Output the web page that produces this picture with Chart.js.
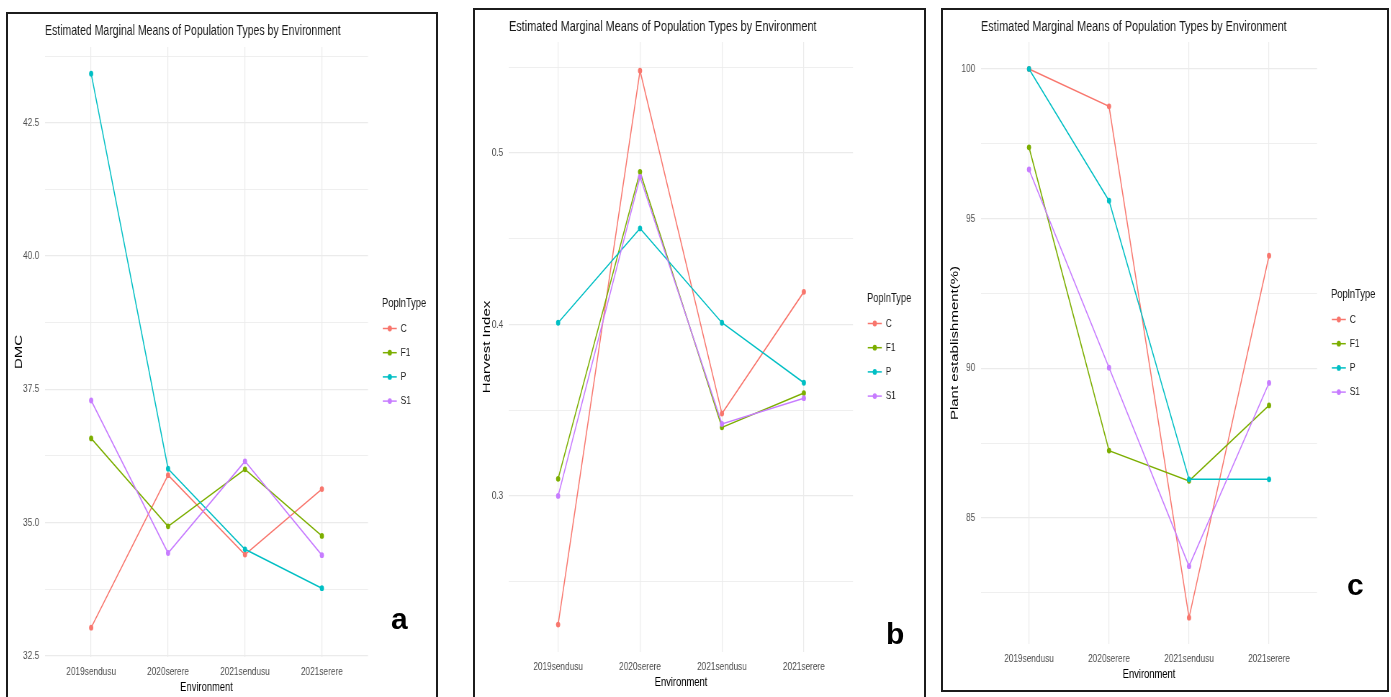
<!DOCTYPE html>
<html>
<head>
<meta charset="utf-8">
<script src="https://cdn.jsdelivr.net/npm/chart.js@4.4.0/dist/chart.umd.min.js"></script>
<style>
  body { margin: 0; background: #fff; width: 1391px; height: 697px; overflow: hidden; position: relative; }
  .frame { position: absolute; border: 2px solid #1c1c1c; box-sizing: border-box; }
  .wrap { position: absolute; transform-origin: 0 0; transform: scaleX(0.72); }
  .tag { position: absolute; font: bold 30px "Liberation Sans", Arial, sans-serif; color: #000; line-height: 30px; }
</style>
</head>
<body>
<div class="frame" style="left:6px;top:12px;width:432px;height:700px"></div>
<div class="frame" style="left:473px;top:8px;width:453px;height:700px"></div>
<div class="frame" style="left:941px;top:8px;width:448px;height:684px"></div>

<div class="wrap" style="left:9px;top:15px;width:592px;height:682px"><canvas id="chartA"></canvas></div>
<div class="wrap" style="left:477px;top:12px;width:619px;height:680px"><canvas id="chartB"></canvas></div>
<div class="wrap" style="left:945px;top:12px;width:614px;height:672px"><canvas id="chartC"></canvas></div>

<div class="tag" style="left:391px;top:604px">a</div>
<div class="tag" style="left:886px;top:619px">b</div>
<div class="tag" style="left:1347px;top:570px">c</div>

<script>
const environments = ['2019sendusu', '2020serere', '2021sendusu', '2021serere'];
const poplnTypes = ['C', 'F1', 'P', 'S1'];
const typeColors = ['#F8766D', '#7CAE00', '#00BFC4', '#C77CFF'];

// a - DMC
const dmcC  = [33.03, 35.89, 34.40, 35.63];
const dmcF1 = [36.58, 34.93, 36.00, 34.75];
const dmcP  = [43.42, 36.01, 34.50, 33.77];
const dmcS1 = [37.29, 34.43, 36.15, 34.39];
const dmcTicks = [32.5, 35, 37.5, 40, 42.5];

// b - Harvest Index
const hiC  = [0.225, 0.548, 0.348, 0.419];
const hiF1 = [0.310, 0.489, 0.340, 0.360];
const hiP  = [0.401, 0.456, 0.401, 0.366];
const hiS1 = [0.300, 0.486, 0.342, 0.357];
const hiTicks = [0.3, 0.4, 0.5];

// c - Plant establishment
const peC  = [100.0, 98.75, 81.67, 93.76];
const peF1 = [97.38, 87.25, 86.24, 88.76];
const peP  = [100.0, 95.60, 86.29, 86.29];
const peS1 = [96.64, 90.02, 83.39, 89.51];
const peTicks = [85, 90, 95, 100];

const FONT = '"Liberation Sans", Arial, sans-serif';
const TITLE = 'Estimated Marginal Means of Population Types by Environment';

// title + legend, drawn like the ggplot guide
const ggExtras = {
  id: 'ggExtras',
  afterDraw(chart, args, o) {
    const { ctx, chartArea: a } = chart;
    ctx.save();
    ctx.textBaseline = 'middle';
    ctx.textAlign = 'left';
    ctx.fillStyle = '#1a1a1a';
    ctx.font = o.titleSize + 'px ' + FONT;
    ctx.fillText(TITLE, a.left, o.titleY);

    const mid = (a.top + a.bottom) / 2;
    const lx = a.right + 19.5;
    ctx.font = '13px ' + FONT;
    ctx.fillText('PoplnType', lx, mid - 49);
    chart.data.datasets.forEach((ds, i) => {
      const y = mid - 23.5 + 24.2 * i;
      ctx.strokeStyle = ds.borderColor;
      ctx.fillStyle = ds.borderColor;
      ctx.lineWidth = 1.5;
      ctx.beginPath();
      ctx.moveTo(lx + 1, y);
      ctx.lineTo(lx + 20.5, y);
      ctx.stroke();
      ctx.beginPath();
      ctx.arc(lx + 10.75, y, 2.9, 0, Math.PI * 2);
      ctx.fill();
      ctx.fillStyle = '#1a1a1a';
      ctx.font = '11.5px ' + FONT;
      ctx.fillText(ds.label, lx + 26, y);
    });
    ctx.restore();
  }
};

function makePanel(id, series, majors, yMin, yMax, decimals, yTitle, lay) {
  const half = (majors[1] - majors[0]) / 2;
  const yVals = [], yLabels = [];
  for (let k = -1; k <= (majors.length - 1) * 2 + 1; k++) {
    const v = majors[0] + k * half;
    if (v < yMin - 1e-9 || v > yMax + 1e-9) continue;
    yVals.push(v);
    yLabels.push(k % 2 === 0 ? v.toFixed(decimals) : '');
  }

  const datasets = series.map((vals, i) => ({
    label: poplnTypes[i],
    data: vals.map((v, j) => ({ x: j + 1, y: v })),
    borderColor: typeColors[i],
    backgroundColor: typeColors[i],
    borderWidth: 1.5,
    pointRadius: 2.9,
    pointBorderWidth: 0,
    tension: 0,
    order: series.length - i
  }));

  new Chart(document.getElementById(id), {
    type: 'line',
    data: { datasets },
    plugins: [ggExtras],
    options: {
      responsive: true,
      maintainAspectRatio: false,
      animation: false,
      events: [],
      layout: { padding: { top: lay.top, right: lay.right, left: 0, bottom: 0 } },
      plugins: {
        legend: { display: false },
        tooltip: { enabled: false },
        ggExtras: { titleSize: lay.titleSize, titleY: lay.titleY }
      },
      scales: {
        x: {
          type: 'linear',
          min: 0.4,
          max: 4.6,
          afterBuildTicks: s => { s.ticks = environments.map((e, i) => ({ value: i + 1 })); },
          afterFit: s => { s.height = 40; },
          border: { display: false },
          grid: { color: '#EBEBEB', lineWidth: 1.2, drawTicks: false },
          ticks: {
            autoSkip: false, maxRotation: 0, padding: 8,
            color: '#4D4D4D', font: { family: FONT, size: 11.5 },
            callback: v => environments[v - 1]
          },
          title: {
            display: true, text: 'Environment', color: '#000',
            font: { family: FONT, size: 13 }, padding: { top: 0, bottom: 2.2 }
          }
        },
        y: {
          min: yMin,
          max: yMax,
          afterBuildTicks: s => { s.ticks = yVals.map(v => ({ value: v })); },
          afterFit: s => { s.width = lay.yWidth; },
          border: { display: false },
          grid: {
            color: '#EBEBEB', drawTicks: false,
            lineWidth: c => (c.tick && c.tick.label !== '' ? 1.2 : 0.8)
          },
          ticks: {
            padding: 8, color: '#4D4D4D', font: { family: FONT, size: 11.5 },
            callback: (v, i) => yLabels[i]
          },
          title: {
            display: true, text: yTitle, color: '#000',
            font: { family: FONT, size: 15 }, padding: { top: lay.yTitlePad, bottom: 0 }
          }
        }
      }
    }
  });
}

makePanel('chartA', [dmcC, dmcF1, dmcP, dmcS1], dmcTicks, 32.48, 43.92, 1, 'DMC',
  { top: 32, right: 93.4, yWidth: 50, yTitlePad: 4.5, titleSize: 14.6, titleY: 16 });
makePanel('chartB', [hiC, hiF1, hiP, hiS1], hiTicks, 0.209, 0.5647, 1, 'Harvest Index',
  { top: 30, right: 96.8, yWidth: 44.4, yTitlePad: 4.9, titleSize: 15.2, titleY: 15 });
makePanel('chartC', [peC, peF1, peP, peS1], peTicks, 80.79, 100.9, 0, 'Plant establishment(%)',
  { top: 30, right: 97.3, yWidth: 50, yTitlePad: 4.9, titleSize: 15.1, titleY: 15 });
</script>
</body>
</html>
